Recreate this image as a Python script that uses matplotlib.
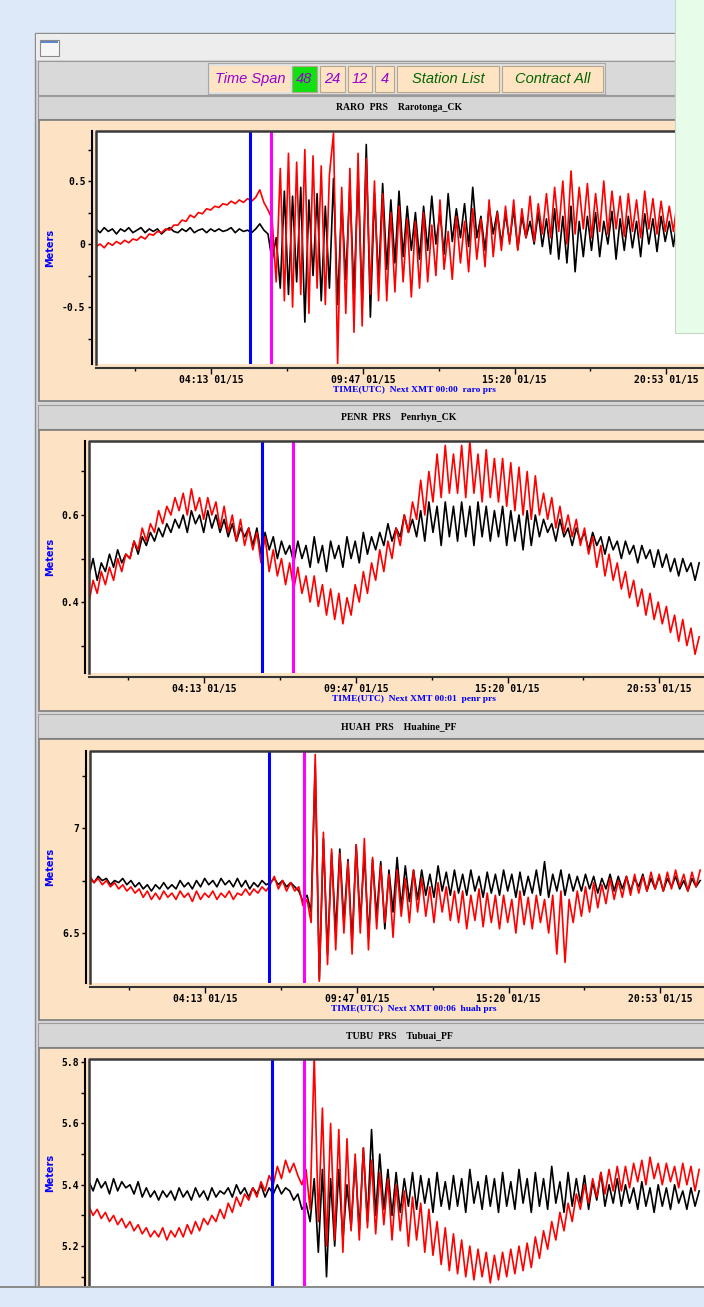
import numpy as np
import matplotlib.pyplot as plt
from matplotlib.patches import Rectangle

W, H = 704, 1307

# hours after 00:00 UTC 01/15, one sample every 9 minutes
hours = np.arange(150) * 0.15

raro_blk = [
    0.12, 0.09, 0.13, 0.10, 0.12, 0.08, 0.12, 0.10, 0.13, 0.09,
    0.11, 0.13, 0.09, 0.12, 0.10, 0.12, 0.08, 0.11, 0.13, 0.10,
    0.09, 0.12, 0.10, 0.13, 0.09, 0.11, 0.12, 0.09, 0.12, 0.10,
    0.12, 0.10, 0.11, 0.13, 0.09, 0.12, 0.10, 0.11, 0.09, 0.12,
    0.16, 0.11, 0.08, -0.13, 0.05, -0.35, 0.42, -0.40, 0.38, -0.30,
    0.45, -0.62, 0.35, -0.25, 0.40, -0.45, 0.30, -0.35, 0.52, -0.48,
    0.33, -0.28, 0.45, -0.40, 0.55, -0.50, 0.79, -0.58, 0.40, -0.30,
    0.48, -0.20, 0.35, -0.15, 0.42, -0.10, 0.30, -0.05, 0.25, -0.12,
    0.30, -0.05, 0.38, 0.00, 0.25, -0.08, 0.40, 0.02, 0.28, 0.05,
    0.32, -0.02, 0.45, 0.05, 0.22, -0.05, 0.30, 0.08, 0.26, 0.00,
    0.24, 0.02, 0.28, -0.04, 0.22, 0.05, 0.18, 0.00, 0.25, -0.02,
    0.20, -0.08, 0.28, -0.12, 0.22, -0.15, 0.30, -0.22, 0.18, -0.10,
    0.22, -0.05, 0.25, -0.10, 0.18, 0.00, 0.26, -0.12, 0.20, -0.05,
    0.22, -0.03, 0.18, -0.10, 0.24, 0.00, 0.20, -0.06, 0.22, 0.02,
    0.18, -0.02, 0.22, 0.04, 0.16, 0.00, 0.20, 0.05, 0.18, 0.02,
]
raro_red = [
    -0.02, 0.00, -0.03, 0.01, -0.01, 0.02, 0.00, 0.03, 0.01, 0.04,
    0.03, 0.06, 0.04, 0.08, 0.07, 0.10, 0.09, 0.12, 0.11, 0.15,
    0.15, 0.19, 0.18, 0.23, 0.21, 0.25, 0.24, 0.28, 0.27, 0.30,
    0.29, 0.32, 0.31, 0.34, 0.32, 0.35, 0.33, 0.36, 0.34, 0.37,
    0.43, 0.33, 0.27, 0.20, -0.30, 0.60, -0.45, 0.72, -0.50, 0.65,
    -0.40, 0.75, -0.55, 0.70, -0.35, 0.62, -0.48, 0.55, 0.88, -0.95,
    0.45, -0.55, 0.60, -0.70, 0.72, -0.65, 0.68, -0.40, 0.50, -0.45,
    0.40, -0.45, 0.25, -0.38, 0.30, -0.30, 0.20, -0.42, 0.18, -0.35,
    0.25, -0.30, 0.15, -0.25, 0.35, -0.20, 0.10, -0.28, 0.22, -0.15,
    0.18, -0.22, 0.28, -0.12, 0.20, -0.18, 0.35, -0.10, 0.25, -0.05,
    0.30, 0.00, 0.35, -0.05, 0.28, 0.05, 0.38, 0.02, 0.32, 0.08,
    0.40, 0.05, 0.45, 0.10, 0.50, 0.00, 0.58, 0.08, 0.45, 0.12,
    0.48, 0.05, 0.40, 0.10, 0.50, 0.08, 0.42, 0.12, 0.38, 0.06,
    0.40, 0.10, 0.35, 0.05, 0.42, 0.12, 0.36, 0.08, 0.34, 0.10,
    0.30, 0.10, 0.35, 0.12, 0.28, 0.15, 0.32, 0.10, 0.30, 0.12,
]

penr_blk = [
    0.46, 0.50, 0.45, 0.49, 0.47, 0.51, 0.48, 0.52, 0.49, 0.51,
    0.50, 0.54, 0.51, 0.55, 0.53, 0.56, 0.54, 0.57, 0.55, 0.58,
    0.56, 0.59, 0.57, 0.60, 0.56, 0.61, 0.58, 0.60, 0.56, 0.61,
    0.57, 0.60, 0.56, 0.59, 0.55, 0.58, 0.54, 0.57, 0.55, 0.57,
    0.53, 0.57, 0.51, 0.56, 0.52, 0.55, 0.50, 0.54, 0.51, 0.53,
    0.49, 0.54, 0.50, 0.53, 0.48, 0.55, 0.49, 0.53, 0.47, 0.54,
    0.50, 0.53, 0.48, 0.55, 0.50, 0.54, 0.49, 0.56, 0.51, 0.55,
    0.52, 0.56, 0.53, 0.58, 0.54, 0.57, 0.55, 0.60, 0.56, 0.59,
    0.55, 0.61, 0.54, 0.63, 0.56, 0.62, 0.53, 0.63, 0.55, 0.62,
    0.54, 0.63, 0.55, 0.62, 0.53, 0.63, 0.55, 0.62, 0.54, 0.61,
    0.55, 0.62, 0.53, 0.61, 0.54, 0.60, 0.52, 0.61, 0.53, 0.60,
    0.55, 0.59, 0.56, 0.58, 0.54, 0.59, 0.55, 0.57, 0.53, 0.57,
    0.54, 0.56, 0.52, 0.56, 0.53, 0.55, 0.51, 0.55, 0.52, 0.54,
    0.50, 0.54, 0.51, 0.53, 0.49, 0.53, 0.50, 0.52, 0.48, 0.52,
    0.48, 0.51, 0.47, 0.50, 0.46, 0.50, 0.47, 0.49, 0.45, 0.49,
]
penr_red = [
    0.40, 0.45, 0.42, 0.47, 0.44, 0.48, 0.45, 0.50, 0.47, 0.51,
    0.50, 0.54, 0.52, 0.57, 0.54, 0.58, 0.56, 0.61, 0.58, 0.62,
    0.60, 0.64, 0.61, 0.65, 0.60, 0.66, 0.61, 0.64, 0.59, 0.64,
    0.60, 0.63, 0.57, 0.62, 0.56, 0.60, 0.54, 0.59, 0.53, 0.57,
    0.52, 0.56, 0.49, 0.55, 0.47, 0.52, 0.46, 0.50, 0.44, 0.49,
    0.43, 0.48, 0.42, 0.46, 0.40, 0.46, 0.39, 0.44, 0.37, 0.43,
    0.36, 0.42, 0.35, 0.41, 0.37, 0.44, 0.40, 0.47, 0.42, 0.49,
    0.45, 0.52, 0.47, 0.54, 0.50, 0.57, 0.53, 0.60, 0.56, 0.63,
    0.59, 0.68, 0.60, 0.70, 0.63, 0.74, 0.64, 0.76, 0.65, 0.74,
    0.65, 0.76, 0.64, 0.77, 0.65, 0.74, 0.63, 0.75, 0.64, 0.73,
    0.63, 0.73, 0.62, 0.72, 0.61, 0.71, 0.60, 0.70, 0.59, 0.69,
    0.60, 0.65, 0.59, 0.64, 0.57, 0.62, 0.56, 0.60, 0.55, 0.59,
    0.53, 0.57, 0.51, 0.55, 0.48, 0.53, 0.46, 0.51, 0.45, 0.49,
    0.43, 0.47, 0.41, 0.45, 0.39, 0.43, 0.37, 0.42, 0.36, 0.40,
    0.35, 0.39, 0.33, 0.37, 0.31, 0.36, 0.30, 0.34, 0.28, 0.32,
]

huah_blk = [
    6.76, 6.74, 6.77, 6.75, 6.76, 6.73, 6.75, 6.74, 6.76, 6.73,
    6.75, 6.72, 6.74, 6.71, 6.73, 6.70, 6.73, 6.71, 6.74, 6.71,
    6.73, 6.71, 6.75, 6.72, 6.74, 6.71, 6.75, 6.72, 6.76, 6.73,
    6.75, 6.72, 6.76, 6.73, 6.75, 6.72, 6.76, 6.72, 6.75, 6.71,
    6.74, 6.72, 6.75, 6.73, 6.74, 6.76, 6.73, 6.75, 6.72, 6.74,
    6.72, 6.70, 6.65, 6.68, 6.60, 7.30, 6.28, 6.95, 6.40, 6.88,
    6.50, 6.90, 6.55, 6.85, 6.45, 6.92, 6.55, 6.88, 6.48, 6.85,
    6.58, 6.84, 6.52, 6.80, 6.60, 6.86, 6.62, 6.82, 6.65, 6.80,
    6.66, 6.80, 6.68, 6.78, 6.67, 6.82, 6.70, 6.79, 6.68, 6.80,
    6.69, 6.78, 6.68, 6.80, 6.70, 6.77, 6.67, 6.79, 6.69, 6.78,
    6.68, 6.80, 6.70, 6.78, 6.67, 6.79, 6.68, 6.77, 6.69, 6.80,
    6.68, 6.84, 6.67, 6.78, 6.70, 6.80, 6.68, 6.78, 6.70, 6.77,
    6.70, 6.78, 6.71, 6.77, 6.69, 6.76, 6.71, 6.78, 6.70, 6.77,
    6.71, 6.77, 6.70, 6.76, 6.72, 6.78, 6.70, 6.76, 6.71, 6.77,
    6.70, 6.76, 6.72, 6.77, 6.71, 6.75, 6.70, 6.76, 6.72, 6.75,
]
huah_red = [
    6.77, 6.74, 6.76, 6.73, 6.75, 6.72, 6.74, 6.71, 6.73, 6.70,
    6.72, 6.69, 6.71, 6.67, 6.70, 6.66, 6.69, 6.66, 6.70, 6.67,
    6.69, 6.66, 6.70, 6.67, 6.69, 6.65, 6.70, 6.66, 6.69, 6.67,
    6.70, 6.66, 6.69, 6.67, 6.70, 6.66, 6.69, 6.68, 6.71, 6.68,
    6.71, 6.69, 6.72, 6.70, 6.73, 6.77, 6.71, 6.75, 6.70, 6.74,
    6.70, 6.72, 6.63, 6.66, 6.55, 7.35, 6.27, 6.98, 6.35, 6.90,
    6.42, 6.88, 6.50, 6.84, 6.40, 6.92, 6.50, 6.95, 6.42, 6.86,
    6.52, 6.82, 6.55, 6.78, 6.48, 6.80, 6.58, 6.76, 6.55, 6.80,
    6.60, 6.76, 6.58, 6.72, 6.55, 6.74, 6.60, 6.72, 6.56, 6.70,
    6.55, 6.70, 6.52, 6.68, 6.56, 6.71, 6.53, 6.69, 6.55, 6.68,
    6.52, 6.68, 6.55, 6.66, 6.50, 6.70, 6.54, 6.67, 6.52, 6.68,
    6.55, 6.66, 6.50, 6.68, 6.40, 6.70, 6.36, 6.66, 6.55, 6.70,
    6.58, 6.72, 6.60, 6.74, 6.62, 6.73, 6.64, 6.76, 6.66, 6.75,
    6.67, 6.77, 6.68, 6.78, 6.69, 6.77, 6.70, 6.79, 6.71, 6.78,
    6.70, 6.79, 6.71, 6.80, 6.72, 6.78, 6.70, 6.79, 6.72, 6.80,
]

tubu_blk = [
    5.41, 5.38, 5.42, 5.39, 5.41, 5.37, 5.42, 5.38, 5.41, 5.39,
    5.40, 5.37, 5.41, 5.36, 5.39, 5.36, 5.38, 5.35, 5.38, 5.36,
    5.38, 5.35, 5.39, 5.36, 5.38, 5.35, 5.39, 5.36, 5.38, 5.35,
    5.39, 5.36, 5.38, 5.37, 5.39, 5.36, 5.40, 5.37, 5.39, 5.36,
    5.39, 5.37, 5.40, 5.36, 5.39, 5.37, 5.40, 5.37, 5.39, 5.38,
    5.35, 5.37, 5.32, 5.34, 5.28, 5.42, 5.18, 5.45, 5.10, 5.42,
    5.20, 5.45, 5.22, 5.40, 5.26, 5.48, 5.25, 5.52, 5.28, 5.58,
    5.30, 5.50, 5.32, 5.45, 5.30, 5.44, 5.31, 5.42, 5.33, 5.44,
    5.32, 5.43, 5.34, 5.42, 5.31, 5.44, 5.33, 5.41, 5.32, 5.43,
    5.33, 5.42, 5.31, 5.45, 5.34, 5.41, 5.32, 5.43, 5.33, 5.42,
    5.31, 5.44, 5.33, 5.41, 5.32, 5.45, 5.34, 5.42, 5.31, 5.44,
    5.33, 5.42, 5.32, 5.46, 5.34, 5.41, 5.31, 5.44, 5.33, 5.42,
    5.34, 5.43, 5.32, 5.41, 5.35, 5.44, 5.33, 5.40, 5.34, 5.42,
    5.33, 5.40, 5.34, 5.39, 5.32, 5.41, 5.33, 5.39, 5.31, 5.40,
    5.33, 5.39, 5.32, 5.40, 5.34, 5.38, 5.32, 5.39, 5.33, 5.38,
]
tubu_red = [
    5.33, 5.30, 5.32, 5.29, 5.31, 5.28, 5.30, 5.27, 5.29, 5.26,
    5.28, 5.25, 5.27, 5.24, 5.26, 5.23, 5.25, 5.23, 5.26, 5.22,
    5.25, 5.23, 5.26, 5.23, 5.27, 5.24, 5.28, 5.25, 5.29, 5.27,
    5.30, 5.28, 5.32, 5.29, 5.34, 5.31, 5.36, 5.33, 5.37, 5.35,
    5.39, 5.36, 5.41, 5.38, 5.43, 5.40, 5.46, 5.42, 5.48, 5.44,
    5.47, 5.43, 5.40, 5.45, 5.32, 5.82, 5.28, 5.65, 5.20, 5.60,
    5.22, 5.58, 5.18, 5.55, 5.25, 5.50, 5.22, 5.52, 5.26, 5.48,
    5.24, 5.44, 5.27, 5.42, 5.22, 5.40, 5.25, 5.38, 5.20, 5.36,
    5.22, 5.34, 5.18, 5.32, 5.17, 5.28, 5.14, 5.26, 5.12, 5.24,
    5.11, 5.22, 5.10, 5.20, 5.09, 5.19, 5.10, 5.18, 5.08, 5.17,
    5.09, 5.18, 5.10, 5.19, 5.11, 5.20, 5.12, 5.21, 5.13, 5.23,
    5.16, 5.25, 5.19, 5.28, 5.22, 5.31, 5.25, 5.34, 5.28, 5.37,
    5.32, 5.40, 5.34, 5.42, 5.36, 5.44, 5.37, 5.45, 5.38, 5.46,
    5.38, 5.46, 5.39, 5.47, 5.41, 5.48, 5.40, 5.49, 5.42, 5.47,
    5.40, 5.47, 5.41, 5.46, 5.39, 5.47, 5.40, 5.46, 5.38, 5.45,
]

codes = ['RARO', 'PENR', 'HUAH', 'TUBU']
places = ['Rarotonga_CK', 'Penrhyn_CK', 'Huahine_PF', 'Tubuai_PF']
next_xmt = ['00:00', '00:01', '00:06', None]
black_series = [raro_blk, penr_blk, huah_blk, tubu_blk]
red_series = [raro_red, penr_red, huah_red, tubu_red]
blue_marks = [5.64, 6.34, 6.56, 6.70]
magenta_marks = [6.41, 7.47, 7.84, 7.88]
ylims = [(-0.952, 0.897), (0.237, 0.770), (6.262, 7.367), (5.07, 5.81)]
ytick_major = [[-0.5, 0, 0.5], [0.4, 0.6], [6.5, 7], [5.2, 5.4, 5.6, 5.8]]
ytick_labels = [['-0.5', '0', '0.5'], ['0.4', '0.6'], ['6.5', '7'], ['5.2', '5.4', '5.6', '5.8']]
ytick_minor = [[-0.75, -0.25, 0.25, 0.75], [0.3, 0.5, 0.7], [6.75, 7.25], [5.1, 5.3, 5.5, 5.7]]
xtick_major = [4.217, 9.783, 15.333, 20.883]
xtick_labels = ['04:13 01/15', '09:47 01/15', '15:20 01/15', '20:53 01/15']
xtick_minor = [1.433, 7.0, 12.55, 18.1]

# pixel layout (left, top, bottom) of each plot box, header bar and peach panel
plot_px = [(96, 131, 364), (89, 441, 673), (90, 751, 983), (89, 1059, 1286)]
header_px = [(96, 119), (405, 429), (714, 738), (1023, 1047)]
panel_px = [(120, 401), (430, 711), (739, 1020), (1048, 1290)]
PX_PER_HOUR = 27.3
RIGHT = 770

fig = plt.figure(figsize=(W / 100, H / 100), dpi=100, facecolor='#dde9f8')


def box(x0, y0, x1, y1, fc, ec='none', lw=0.0, z=-5):
    fig.patches.append(Rectangle((x0 / W, 1 - y1 / H), (x1 - x0) / W, (y1 - y0) / H,
                                 transform=fig.transFigure, facecolor=fc,
                                 edgecolor=ec, linewidth=lw, zorder=z))


def txt(x, y, s, **kw):
    kw.setdefault('ha', 'center')
    kw.setdefault('va', 'center')
    fig.text(x / W, 1 - y / H, s, **kw)


# window, title bar and toolbar
box(35, 33, 730, 1288, '#d5d5d5', ec='#8c8c8c', lw=1.0, z=-10)
box(36, 34, 730, 60, '#ededed', z=-9)
box(40, 40, 59, 56, '#f6f6f6', ec='#8a8a8a', lw=0.8, z=-8)
box(41, 41, 58, 43, '#5f86c4', z=-7)
box(38, 61, 730, 95, '#d9d9d9', ec='#9a9a9a', lw=0.8, z=-9)
box(208, 63, 605, 94, '#e2e2e2', ec='#a8a8a8', lw=0.8, z=-8)

buttons = [('Time Span', 210, 290, '#ffe4c4', '#9900cc'),
           ('48', 292, 317, '#11e011', '#9900cc'),
           ('24', 320, 345, '#ffe4c4', '#9900cc'),
           ('12', 348, 372, '#ffe4c4', '#9900cc'),
           ('4', 375, 394, '#ffe4c4', '#9900cc'),
           ('Station List', 397, 499, '#ffe4c4', '#006400'),
           ('Contract All', 502, 603, '#ffe4c4', '#006400')]
for label, x0, x1, bg, fg in buttons:
    edge = 'none' if label == 'Time Span' else '#b9a58c'
    box(x0, 66, x1, 92, bg, ec=edge, lw=0.8, z=-7)
    txt((x0 + x1) / 2, 79, label, color=fg, fontsize=10.5, style='italic',
        family=['Liberation Sans Narrow', 'Liberation Sans'])

for i in range(4):
    h0, h1 = header_px[i]
    p0, p1 = panel_px[i]
    box(38, h0, 730, h1, '#d6d6d6', ec='#9c9c9c', lw=0.8, z=-9)
    box(39, p0, 730, p1, '#fde3c4', ec='#7c7c7c', lw=1.2, z=-9)
    txt(399, (h0 + h1) / 2 + 0.5, f'{codes[i]}  PRS    {places[i]}', fontsize=7,
        weight='bold', family='Liberation Serif')

for i in range(4):
    left, top, bot = plot_px[i]
    ax = fig.add_axes([left / W, 1 - bot / H, (RIGHT - left) / W, (bot - top) / H])
    ax.set_facecolor('white')
    ax.plot(hours, black_series[i], color='black', lw=1.2)
    ax.plot(hours, red_series[i], color='#ff0000', lw=1.2)
    ax.axvline(blue_marks[i], color='#0000ff', lw=2.2)
    ax.axvline(magenta_marks[i], color='#ff00ff', lw=2.2)
    ax.set_xlim(0, (RIGHT - left) / PX_PER_HOUR)
    ax.set_ylim(*ylims[i])

    for s in ('top', 'right'):
        ax.spines[s].set_visible(False)
    ax.spines['left'].set_position(('outward', 3))
    ax.spines['left'].set_linewidth(1.5)
    ax.plot([0, 0, 1], [0, 1, 1], transform=ax.transAxes, color='#3a3a3a',
            lw=1.8, clip_on=False)

    ax.set_yticks(ytick_major[i], ytick_labels[i], fontsize=7, weight='bold',
                  family='DejaVu Sans Mono')
    ax.set_yticks(ytick_minor[i], minor=True)
    ax.tick_params(axis='y', which='both', direction='out', length=3, width=1, pad=1.5)

    if next_xmt[i] is None:
        ax.spines['bottom'].set_visible(False)
        ax.set_xticks([])
    else:
        ax.spines['bottom'].set_position(('outward', 3))
        ax.spines['bottom'].set_linewidth(1.5)
        ax.spines['bottom'].set_color('#333333')
        ax.set_xticks(xtick_major, xtick_labels, fontsize=7, weight='bold',
                      family='DejaVu Sans Mono')
        ax.set_xticks(xtick_minor, minor=True)
        ax.tick_params(axis='x', which='major', length=4, width=1, pad=1)
        ax.tick_params(axis='x', which='minor', length=2.5, width=1)
        txt(414, bot + 26, f'TIME(UTC)  Next XMT {next_xmt[i]}  {codes[i].lower()} prs',
            color='#0000ff', fontsize=6.8, weight='bold', family='Liberation Serif')

    txt(50, (top + bot) / 2, 'Meters', color='#0000ff', fontsize=7, weight='bold',
        rotation=90, family='DejaVu Sans')

# window bottom edge and the side panel that covers the top right
box(0, 1286, 704, 1288, '#8c8c8c', z=5)
box(0, 1288, 704, 1307, '#dde9f8', z=5)
box(675, -2, 710, 333, '#e8fcea', ec='#c4d8c8', lw=0.8, z=10)

fig.savefig('out.png', dpi=100)
